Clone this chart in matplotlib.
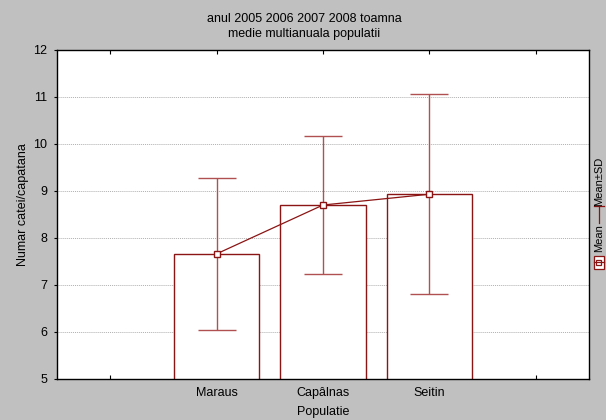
import numpy as np
import matplotlib.pyplot as plt
from matplotlib.lines import Line2D
from matplotlib.patches import Rectangle

plt.rcParams['font.family'] = ['Liberation Sans', 'DejaVu Sans']

## Data
populations = ['Maraus', 'Capâlnas', 'Seitin']
means = [7.66, 8.70, 8.93]
sds = [1.62, 1.46, 2.13]
positions = [2, 3, 4]

red = '#8b1414'
red_light = '#b05050'

fig = plt.figure(figsize=(6.06, 4.2), dpi=100, facecolor='#c0c0c0')
ax = fig.add_axes([0.094, 0.098, 0.878, 0.783])
ax.set_facecolor('white')

ax.bar(positions, means, width=0.8, color='white', edgecolor=red, linewidth=1.0, zorder=2)
ax.errorbar(positions, means, yerr=sds, fmt='none', ecolor=red_light, elinewidth=1.0,
            capsize=14, capthick=1.0, zorder=3)
ax.plot(positions, means, '-', color=red, linewidth=0.9, marker='s', markersize=4.5,
        markerfacecolor='white', markeredgecolor=red, markeredgewidth=1.0, zorder=4)

ax.set_xlim(0.5, 5.5)
ax.set_ylim(5, 12)
ax.set_xticks([1, 2, 3, 4, 5])
ax.set_xticklabels(['', populations[0], populations[1], populations[2], ''])
ax.set_yticks(np.arange(5, 13, 1))
ax.tick_params(axis='both', labelsize=9, direction='in', length=3, width=0.8, top=True)
ax.tick_params(axis='x', pad=6)
ax.tick_params(axis='y', direction='out', length=2, pad=5)
ax.yaxis.grid(True, linestyle=(0, (1, 1)), color='#b0b0b0', linewidth=0.7)
ax.set_axisbelow(True)
for s in ax.spines.values():
    s.set_linewidth(1.0)
    s.set_color('black')

ax.set_xlabel('Populatie', fontsize=9, labelpad=5)
ax.set_ylabel('Numar catei/capatana', fontsize=9)
ax.yaxis.set_label_coords(-0.052, 0.53)
fig.text(0.502, 0.954, 'anul 2005 2006 2007 2008 toamna', fontsize=9, ha='center', va='center')
fig.text(0.502, 0.92, 'medie multianuala populatii', fontsize=9, ha='center', va='center')

## Vertical legend on the right
lx = 0.988
fig.text(lx, 0.569, 'Mean±SD', rotation=90, fontsize=8, ha='center', va='center')
fig.text(lx, 0.433, 'Mean', rotation=90, fontsize=8, ha='center', va='center')
fig.add_artist(Line2D([lx - 0.008, lx + 0.008], [0.51, 0.51], transform=fig.transFigure,
                      color=red, linewidth=0.9))
fig.add_artist(Line2D([lx, lx], [0.468, 0.51], transform=fig.transFigure,
                      color=red, linewidth=0.9))
fig.add_artist(Rectangle((lx - 0.008, 0.36), 0.016, 0.031, transform=fig.transFigure,
                         facecolor='white', edgecolor=red, linewidth=0.9))
fig.add_artist(Line2D([lx - 0.008, lx + 0.008], [0.3755, 0.3755], transform=fig.transFigure,
                      color=red, linewidth=0.9))
fig.add_artist(Rectangle((lx - 0.004, 0.369), 0.008, 0.013, transform=fig.transFigure,
                         facecolor='white', edgecolor=red, linewidth=0.9))

fig.savefig('out.png', dpi=100, facecolor=fig.get_facecolor())
